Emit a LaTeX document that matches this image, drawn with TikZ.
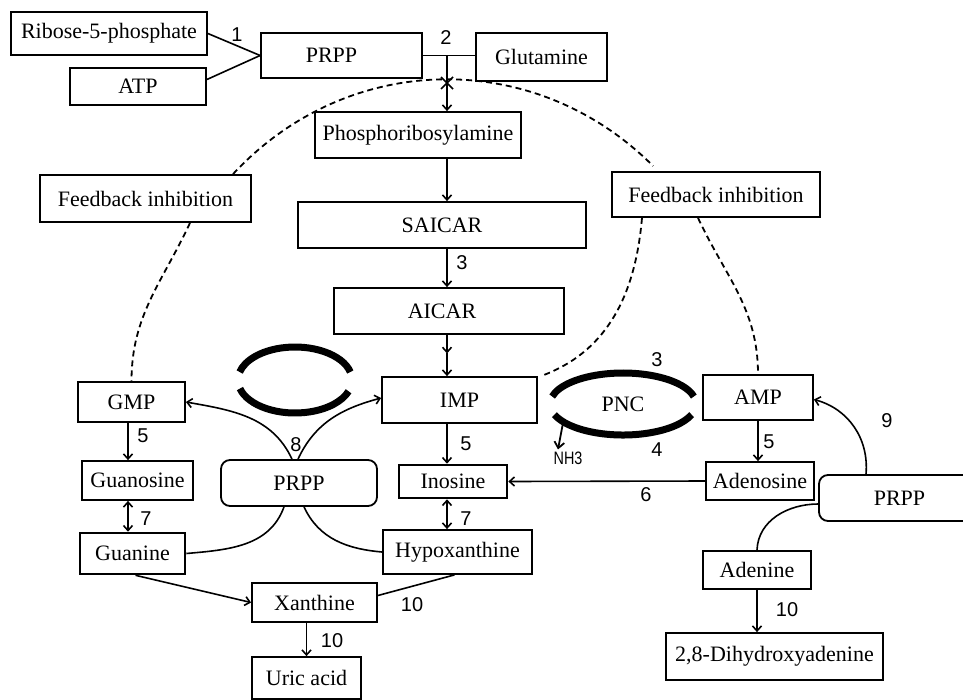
\documentclass[tikz,border=0pt]{standalone}
\usepackage{fontspec}
\setmainfont{Liberation Serif}
\newfontfamily\numfont{Liberation Sans}
\usetikzlibrary{arrows.meta,calc}
\newcommand\mybox[7][]{\node[box,#1,minimum width=#5pt,minimum height=#6pt] (#2) at (#3,-#4) {#7};}
\begin{document}
\begin{tikzpicture}[x=1pt,y=1pt,
  box/.style={draw,line width=1.8pt,inner sep=0pt,fill=white,font=\fontsize{22}{26}\selectfont},
  rbox/.style={rounded corners=9pt},
  bold/.style={line width=2.6pt},
  conn/.style={line width=1.6pt},
  arr/.style={conn,-{Straight Barb[length=5pt,width=9pt,line width=1.6pt]}},
  darr/.style={conn,{Straight Barb[length=5pt,width=9pt,line width=1.6pt]}-{Straight Barb[length=5pt,width=9pt,line width=1.6pt]}},
  dsh/.style={line width=1.8pt,dash pattern=on 6pt off 4pt},
  thickarc/.style={line width=7pt,line cap=butt},
  lab/.style={font=\numfont\fontsize{20}{23}\selectfont,inner sep=0pt}]
\useasboundingbox (0,0) rectangle (963,-699);
\clip (0,0) rectangle (963,-699);

% boxes
\mybox{rib}{109}{33.5}{196}{43}{Ribose-5-phosphate}
\mybox{atp}{138}{86.5}{136}{37}{ATP}
\mybox{prpa}{341.5}{55.5}{161}{45}{\hspace*{-20pt}PRPP}
\mybox{glut}{541.5}{57}{131}{48}{Glutamine}
\mybox{pra}{418}{135}{206}{46}{Phosphoribosylamine}
\mybox{fbl}{145.5}{198.5}{211}{47}{Feedback inhibition}
\mybox{fbr}{716}{194.5}{208}{45}{Feedback inhibition}
\mybox{saicar}{442}{225}{288}{46}{SAICAR}
\mybox{aicar}{449}{311}{230}{46}{\hspace*{-14pt}AICAR}
\mybox{imp}{459.5}{400}{155}{46}{IMP}
\mybox{amp}{758}{397.5}{110}{45}{AMP}
\mybox{gmp}{131.5}{402}{107}{40}{GMP}
\mybox{guo}{137.5}{480.5}{111}{39}{Guanosine}
\mybox[rbox]{prpm}{299}{483}{156}{46}{PRPP}
\mybox[bold]{ino}{453}{481.5}{108}{33}{Inosine}
\mybox{ados}{760}{481}{108}{38}{Adenosine}
\mybox[rbox]{prpr}{899.5}{498}{161}{46}{PRPP}
\mybox[bold]{gua}{132.5}{553.5}{105}{41}{Guanine}
\mybox{hyp}{457.5}{552}{149}{44}{Hypoxanthine}
\mybox{adn}{757}{570}{108}{38}{Adenine}
\mybox{xan}{314.5}{602.5}{125}{39}{Xanthine}
\mybox{uric}{306.5}{678}{109}{42}{Uric acid}
\mybox{dha}{774.5}{656.5}{217}{47}{2,8-Dihydroxyadenine}

% top connectors
\draw[conn] (rib.east) -- (prpa.west);
\draw[conn] ([yshift=7pt]atp.east) -- (prpa.west);
\coordinate (j2) at (447,-55.5);
\draw[conn] (prpa.east) -- (prpa.east -| glut.west);
\draw[arr] (j2) -- (j2 |- pra.north);
\coordinate (xm) at (447,-83);
\draw[conn] ($(xm)+(-6,-6)$) -- ($(xm)+(6,6)$);
\draw[conn] ($(xm)+(-6,6)$) -- ($(xm)+(6,-6)$);

% main column
\draw[arr] (pra.south -| j2) -- (saicar.north -| j2);
\draw[arr] (saicar.south -| j2) -- (aicar.north -| j2);
\coordinate (mid) at ($(aicar.south -| j2)!0.45!(imp.north -| j2)$);
\draw[arr] (aicar.south -| j2) -- (mid);
\draw[arr] (mid) -- (imp.north -| j2);
\draw[arr] (imp.south -| j2) -- (ino.north -| j2);
\draw[darr] (ino.south -| j2) -- (hyp.north -| j2);

% GMP column
\coordinate (gx) at (128,0);
\draw[arr] (gmp.south -| gx) -- (guo.north -| gx);
\draw[darr] (guo.south -| gx) -- (gua.north -| gx);
\draw[arr] ([xshift=3pt]gua.south) -- (xan.west);
\draw[conn] ([xshift=-3pt]hyp.south) -- ([yshift=7pt]xan.east);
\draw[arr] (xan.south -| uric.north) -- (uric.north);

% PRPP (middle) curves
\draw[arr] ([xshift=-7pt]prpm.north) to[out=115,in=-10] (gmp.east);
\draw[arr] ([xshift=-1pt]prpm.north) to[out=65,in=195] ([yshift=2pt]imp.west);
\draw[conn] ([xshift=-15pt]prpm.south) to[out=-110,in=5] (gua.east);
\draw[conn] ([xshift=5pt]prpm.south) to[out=-65,in=175] (hyp.west);

% AMP side
\draw[arr] (amp.south) -- (amp.south |- ados.north);
\draw[arr] (ados.west) -- (ino.east);
\draw[arr] ([xshift=-33.5pt]prpr.north) to[out=85,in=-15] ([yshift=-2pt]amp.east);
\draw[conn] ([yshift=-6pt]prpr.west) to[out=180,in=88] (adn.north);
\draw[arr] (adn.south) -- (adn.south |- dha.north);

% thick cycle arcs
\coordinate (c1) at (295,-380);
\draw[thickarc] ($(c1)+(14:57 and 33)$) arc[start angle=14,end angle=166,x radius=57,y radius=33];
\draw[thickarc] ($(c1)+(195:57 and 33)$) arc[start angle=195,end angle=340,x radius=57,y radius=33];
\coordinate (c2) at (623,-404);
\draw[thickarc] ($(c2)+(14:73 and 31)$) arc[start angle=14,end angle=166,x radius=73,y radius=31];
\draw[thickarc] ($(c2)+(200:73 and 31)$) arc[start angle=200,end angle=340,x radius=73,y radius=31];
\node[font=\fontsize{22}{26}\selectfont] (pnc) at (c2) {PNC};
\coordinate (nha) at ($(c2)+(215:73 and 31)$);
\node[font=\numfont\fontsize{18}{20}\selectfont,xscale=0.8,inner sep=1pt] (nh3) at (568,-458) {NH3};
\draw[conn,-{Straight Barb[length=6pt,width=10pt,line width=1.8pt]},line width=1.8pt] (nha) -- ([xshift=-10pt,yshift=1pt]nh3.north);

% dashed feedback lines
\draw[dsh] ([xshift=87.5pt]fbl.north) arc[start angle=135.5,end angle=46.6,x radius=300,y radius=317];
\draw[dsh] ([xshift=44.5pt]fbl.south) to[out=-115,in=90] (gmp.north);
\draw[dsh] ([xshift=-74pt]fbr.south) to[out=-95,in=20] ([xshift=3pt]imp.north east);
\draw[dsh] ([xshift=-18pt]fbr.south) to[out=-65,in=90] (amp.north);

% labels
\node[lab] (n1) at (237,-35) {1};
\node[lab] (n2) at (446,-38) {2};
\node[lab] (n3a) at (462,-263) {3};
\node[lab] (n3b) at (657,-360) {3};
\node[lab] (n4) at (657,-450) {4};
\node[lab] (n5a) at (143,-436) {5};
\node[lab] (n5b) at (466,-444) {5};
\node[lab] (n5c) at (769,-442) {5};
\node[lab] (n6) at (646,-495) {6};
\node[lab] (n7a) at (146,-519) {7};
\node[lab] (n7b) at (466,-519) {7};
\node[lab] (n8) at (296,-445) {8};
\node[lab] (n9) at (887,-421) {9};
\node[lab] (n10a) at (412,-605) {10};
\node[lab] (n10b) at (332,-641) {10};
\node[lab] (n10c) at (787,-610) {10};
\end{tikzpicture}
\end{document}
